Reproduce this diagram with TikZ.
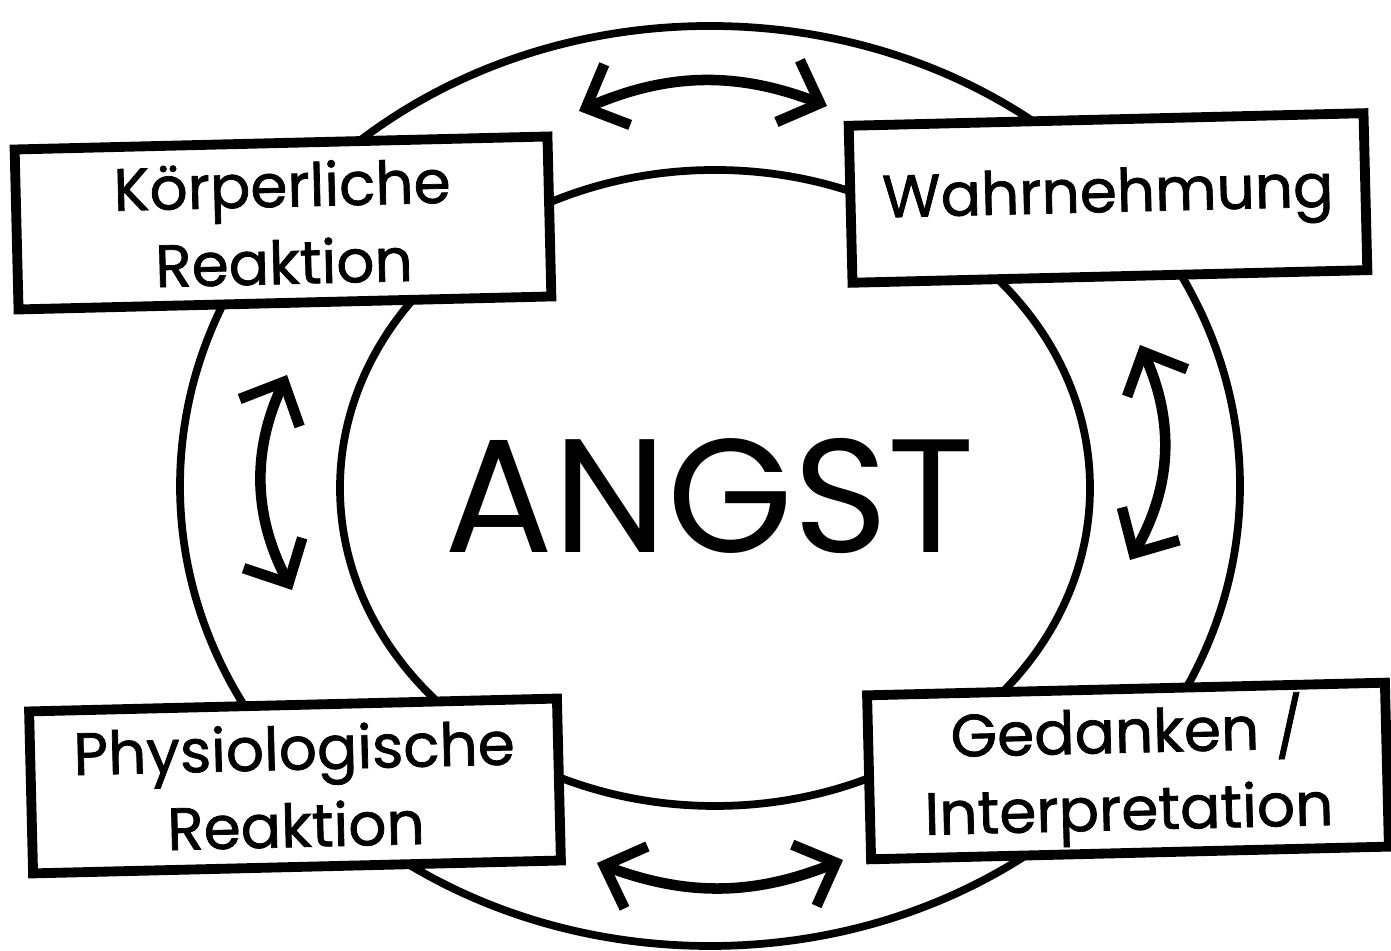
\documentclass[tikz,border=0pt]{standalone}
\usepackage{fontspec}
\setmainfont{Poppins}
\newfontfamily\boxfont[FakeBold=1.2]{Poppins}
\usetikzlibrary{arrows.meta}

\tikzset{
  stagebox/.style={draw, fill=white, line width=2.8pt, minimum width=#1, align=center,
    font=\boxfont\fontsize{17}{22}\selectfont, inner sep=0pt, rotate=1.4},
  ring/.style={line width=2.2pt},
  swap/.style={line width=3pt, {Straight Barb[length=3.4mm,width=6.6mm]}-{Straight Barb[length=3.4mm,width=6.6mm]}}
}

\begin{document}
\begin{tikzpicture}
        \useasboundingbox (0,0) rectangle (13.91,9.51);

        % the two rings
        \draw[ring] (7.10,4.65) ellipse (5.30 and 4.60);
        \draw[ring] (7.15,4.63) ellipse (3.75 and 3.18);

        \node[font=\fontsize{46}{46}\selectfont] (angst) at (7.10,4.55) {ANGST};

        % the four stages
        \node[stagebox=5.33cm, minimum height=1.60cm] (koerper) at (2.83,7.28) {Körperliche\\Reaktion};
        \node[stagebox=5.15cm, minimum height=1.57cm] (wahr) at (11.08,7.53) {Wahrnehmung};
        \node[stagebox=5.28cm, minimum height=1.62cm] (physio) at (2.95,1.65) {Physiologische\\Reaktion};
        \node[stagebox=5.18cm, minimum height=1.64cm] (gedanken) at (11.28,1.80) {Gedanken /\\Interpretation};

        \coordinate (topL) at (5.79,8.40);
        \coordinate (topR) at (8.27,8.45);
        \coordinate (rightT) at (11.40,6.06);
        \coordinate (rightB) at (11.30,3.91);
        \coordinate (botL) at (5.97,0.88);
        \coordinate (botR) at (8.43,0.91);
        \coordinate (leftT) at (2.87,5.76);
        \coordinate (leftB) at (2.92,3.61);

        \draw[swap] (topL) to[bend left=22] (topR);
        \draw[swap] (rightT) to[bend left=27] (rightB);
        \draw[swap] (botL) to[bend right=21] (botR);
        \draw[swap] (leftT) to[bend right=26] (leftB);
    \end{tikzpicture}
\end{document}
